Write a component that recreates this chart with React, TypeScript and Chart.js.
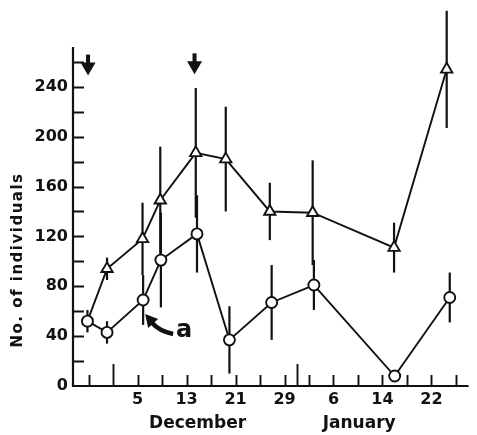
import React, { useEffect, useRef } from 'react';
import { Chart, registerables } from 'chart.js';

Chart.register(...registerables);

// ---- data (days counted from Dec 1 = 0) ----
const circleDays = [-4.2, -1.0, 4.9, 7.8, 13.7, 19.0, 25.9, 32.8, 46.0, 55.0];
const circleCounts = [52, 43, 69, 101, 122, 37, 67, 81, 8, 71];
const circleErrors = [9, 9, 20, 38, 31, 27, 30, 20, 0, 20];

const triangleDays = [-4.2, -1.0, 4.8, 7.7, 13.5, 18.4, 25.6, 32.6, 45.9, 54.5];
const triangleCounts = [52, 94, 118, 149, 187, 182, 140, 139, 111, 254];
const triangleErrors = [0, 9, 29, 43, 52, 42, 23, 42, 20, 47];

const xTickDays = [4, 12, 20, 28, 36, 44, 52];
const xTickLabels = ['5', '13', '21', '29', '6', '14', '22'];
const xMinorTickDays = [-4, 0, 4, 8, 12, 16, 20, 24, 28, 32, 36, 40, 44, 48, 52, 56];
const monthBoundaryDays = [0, 30];
const monthLabels = ['December', 'January'];
const monthCenterDays = [13.8, 40.2];

const yTickValues = [0, 40, 80, 120, 160, 200, 240];
const yMinorTickValues = [20, 40, 60, 80, 100, 120, 140, 160, 180, 200, 220, 240, 260];
const yAxisTop = 272;

const arrowDays = [-4.1, 13.3];
const arrowTipCounts = [249, 250];

const yTitle = 'No. of individuals';
const noteLabel = 'a';
const noteIndex = 2;

const INK = '#111111';
const FONT = '"DejaVu Sans", sans-serif';

const decor = {
  id: 'decor',
  beforeDatasetsDraw(chart: any) {
    const { ctx, chartArea, scales } = chart;
    const x = scales.x;
    const y = scales.y;
    ctx.save();
    ctx.strokeStyle = INK;
    ctx.lineCap = 'butt';

    // axes lines
    ctx.lineWidth = 2.2;
    ctx.beginPath();
    ctx.moveTo(chartArea.left, y.getPixelForValue(yAxisTop));
    ctx.lineTo(chartArea.left, chartArea.bottom + 1);
    ctx.moveTo(chartArea.left - 1, chartArea.bottom);
    ctx.lineTo(chartArea.right, chartArea.bottom);
    ctx.stroke();

    // y ticks (inside)
    ctx.lineWidth = 1.9;
    ctx.beginPath();
    yMinorTickValues.forEach((v) => {
      const py = Math.round(y.getPixelForValue(v)) + 0.5;
      ctx.moveTo(chartArea.left, py);
      ctx.lineTo(chartArea.left + 11, py);
    });
    // x ticks (inside, upward)
    xMinorTickDays.forEach((d) => {
      const px = Math.round(x.getPixelForValue(d)) + 0.5;
      const len = monthBoundaryDays.includes(d) ? 22 : 11;
      ctx.moveTo(px, chartArea.bottom);
      ctx.lineTo(px, chartArea.bottom - len);
    });
    monthBoundaryDays.forEach((d) => {
      if (xMinorTickDays.includes(d)) return;
      const px = Math.round(x.getPixelForValue(d)) + 0.5;
      ctx.moveTo(px, chartArea.bottom);
      ctx.lineTo(px, chartArea.bottom - 22);
    });
    ctx.stroke();

    // error bars
    ctx.lineWidth = 2.2;
    const bars = (days: number[], vals: number[], errs: number[]) => {
      days.forEach((d, i) => {
        if (!errs[i]) return;
        const px = x.getPixelForValue(d);
        ctx.beginPath();
        ctx.moveTo(px, y.getPixelForValue(vals[i] - errs[i]));
        ctx.lineTo(px, y.getPixelForValue(vals[i] + errs[i]));
        ctx.stroke();
      });
    };
    bars(triangleDays, triangleCounts, triangleErrors);
    bars(circleDays, circleCounts, circleErrors);
    ctx.restore();
  },
  afterDraw(chart: any) {
    const { ctx, chartArea, scales } = chart;
    const x = scales.x;
    const y = scales.y;
    ctx.save();
    ctx.fillStyle = INK;
    ctx.strokeStyle = INK;

    // downward arrows
    arrowDays.forEach((d, i) => {
      const px = x.getPixelForValue(d);
      const tip = y.getPixelForValue(arrowTipCounts[i]);
      const headH = 13;
      const totalH = 21;
      ctx.fillRect(px - 2, tip - totalH, 4, totalH - headH + 1);
      ctx.beginPath();
      ctx.moveTo(px - 7.5, tip - headH);
      ctx.lineTo(px + 7.5, tip - headH);
      ctx.lineTo(px, tip);
      ctx.closePath();
      ctx.fill();
    });

    // month labels
    ctx.font = `bold 17px ${FONT}`;
    ctx.textAlign = 'center';
    ctx.textBaseline = 'middle';
    monthLabels.forEach((m, i) => {
      ctx.fillText(m, x.getPixelForValue(monthCenterDays[i]), chartArea.bottom + 38);
    });

    // y title
    ctx.save();
    ctx.translate(chartArea.left - 55, 260);
    ctx.rotate(-Math.PI / 2);
    ctx.font = `bold 15px ${FONT}`;
    (ctx as any).letterSpacing = '1.5px';
    ctx.textAlign = 'center';
    ctx.textBaseline = 'middle';
    ctx.fillText(yTitle, 0, 0);
    ctx.restore();

    // annotation "a" with curved arrow
    const cx = x.getPixelForValue(circleDays[noteIndex]);
    const cy = y.getPixelForValue(circleCounts[noteIndex]);
    ctx.lineWidth = 4.5;
    ctx.lineCap = 'butt';
    ctx.beginPath();
    ctx.moveTo(cx + 30, cy + 34);
    ctx.quadraticCurveTo(cx + 16, cy + 31, cx + 9, cy + 23);
    ctx.stroke();
    ctx.beginPath();
    ctx.moveTo(cx + 2, cy + 14);
    ctx.lineTo(cx + 15, cy + 19);
    ctx.lineTo(cx + 5, cy + 28);
    ctx.closePath();
    ctx.fill();
    ctx.font = `bold 24px ${FONT}`;
    ctx.textAlign = 'center';
    ctx.textBaseline = 'middle';
    ctx.fillText(noteLabel, cx + 41, cy + 31);

    ctx.restore();
  },
};

export default function App() {
  const ref = useRef<HTMLCanvasElement | null>(null);

  useEffect(() => {
    if (!ref.current) return;
    const chart = new Chart(ref.current, {
      type: 'scatter',
      data: {
        datasets: [
          {
            label: 'circles',
            data: circleDays.map((d, i) => ({ x: d, y: circleCounts[i] })),
            showLine: true,
            borderColor: INK,
            borderWidth: 1.9,
            tension: 0,
            pointStyle: 'circle',
            pointRadius: 5.5,
            pointBorderWidth: 1.9,
            pointBorderColor: INK,
            pointBackgroundColor: '#ffffff',
          },
          {
            label: 'triangles',
            data: triangleDays.map((d, i) => ({ x: d, y: triangleCounts[i] })),
            showLine: true,
            borderColor: INK,
            borderWidth: 1.9,
            tension: 0,
            pointStyle: 'triangle',
            pointRadius: (c: any) => (c.dataIndex === 0 ? 0 : 6.5),
            pointBorderWidth: 1.9,
            pointBorderColor: INK,
            pointBackgroundColor: '#ffffff',
          },
        ],
      },
      options: {
        responsive: false,
        devicePixelRatio: 1,
        animation: false,
        layout: { padding: { top: 12, left: 0, right: 0, bottom: 0 } },
        plugins: { legend: { display: false }, tooltip: { enabled: false } },
        scales: {
          x: {
            type: 'linear',
            min: -6.56,
            max: 58.08,
            afterBuildTicks: (s: any) => {
              s.ticks = xTickDays.map((v) => ({ value: v }));
            },
            afterFit: (s: any) => {
              s.height = 49;
              s.paddingLeft = 0;
              s.paddingRight = 0;
            },
            ticks: {
              callback: (v: any) => {
                const i = xTickDays.indexOf(Number(v));
                return i >= 0 ? xTickLabels[i] : '';
              },
              font: { family: FONT, size: 16, weight: 'bold' },
              color: INK,
              padding: 4,
              maxRotation: 0,
              autoSkip: false,
            },
            grid: { display: false, drawTicks: false },
            border: { display: false },
          },
          y: {
            type: 'linear',
            min: 0,
            max: 300,
            afterBuildTicks: (s: any) => {
              s.ticks = yTickValues.map((v) => ({ value: v }));
            },
            afterFit: (s: any) => {
              s.width = 73;
              s.paddingTop = 0;
              s.paddingBottom = 0;
            },
            ticks: {
              font: { family: FONT, size: 16, weight: 'bold' },
              color: INK,
              padding: 5,
              autoSkip: false,
            },
            grid: { display: false, drawTicks: false },
            border: { display: false },
          },
        },
      },
      plugins: [decor],
    } as any);
    return () => chart.destroy();
  }, []);

  return (
    <div style={{ position: 'fixed', left: 0, top: 0, width: 477, height: 435, background: '#fff' }}>
      <canvas ref={ref} width={477} height={435} style={{ display: 'block', width: 477, height: 435 }} />
    </div>
  );
}
